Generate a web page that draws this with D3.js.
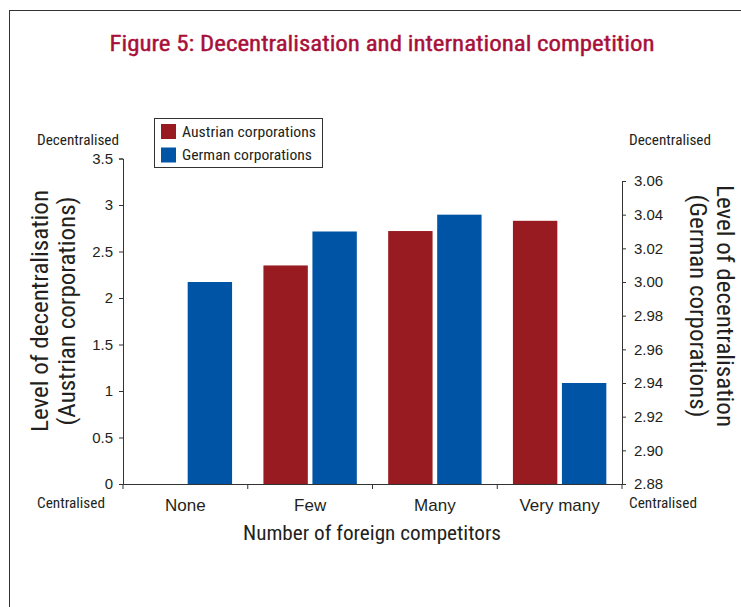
<!DOCTYPE html>
<html><head><meta charset="utf-8">
<script src="https://cdn.jsdelivr.net/npm/d3@7"></script>
<style>
body{margin:0;background:#fff;}
svg{display:block;font-family:"Liberation Sans Narrow","Roboto Condensed","DejaVu Sans Condensed","Roboto",sans-serif;}
</style></head><body>
<svg id="c" width="741" height="607"></svg>
<script>
const categories = ["None", "Few", "Many", "Very many"];
const austrian = [null, 2.35, 2.72, 2.83];
const german = [3.00, 3.03, 3.04, 2.94];
const leftTicks = [0, 0.5, 1, 1.5, 2, 2.5, 3, 3.5];
const rightTicks = [2.88, 2.90, 2.92, 2.94, 2.96, 2.98, 3.00, 3.02, 3.04, 3.06];
const seriesNames = ["Austrian corporations", "German corporations"];
const colors = ["#971b20", "#0054a6"];

const svg = d3.select("#c");
const axisColor = "#333";
const textColor = "#231f20";

// frame
svg.append("rect").attr("x", 9.5).attr("y", 10.5).attr("width", 760).attr("height", 640)
  .attr("fill", "none").attr("stroke", "#333").attr("stroke-width", 1);

// title
svg.append("text").attr("x", 382).attr("y", 51).attr("text-anchor", "middle")
  .attr("fill", "#a8103a").attr("font-size", 22).attr("font-weight", "normal")
  .attr("stroke", "#a8103a").attr("stroke-width", 0.4)
  .attr("textLength", 545).attr("lengthAdjust", "spacingAndGlyphs")
  .text("Figure 5: Decentralisation and international competition");

const x0 = d3.scaleBand().domain(categories).range([123, 622]).paddingInner(0).paddingOuter(0);
const x1 = d3.scaleBand().domain(seriesNames).range([0, x0.bandwidth()]).paddingInner(0.094).paddingOuter(0.32);
const yL = d3.scaleLinear().domain([0, 3.5]).range([484, 158.5]);
const yR = d3.scaleLinear().domain([2.88, 3.06]).range([484, 181]);

// bars
const g = svg.append("g");
categories.forEach((c, i) => {
  if (austrian[i] != null) {
    g.append("rect").attr("x", x0(c) + x1(seriesNames[0])).attr("width", x1.bandwidth())
      .attr("y", yL(austrian[i])).attr("height", yL(0) - yL(austrian[i])).attr("fill", colors[0]);
  }
  if (german[i] != null) {
    g.append("rect").attr("x", x0(c) + x1(seriesNames[1])).attr("width", x1.bandwidth())
      .attr("y", yR(german[i])).attr("height", yR(2.88) - yR(german[i])).attr("fill", colors[1]);
  }
});

// left axis
const axL = svg.append("g").attr("transform", "translate(123,0)")
  .call(d3.axisLeft(yL).tickValues(leftTicks).tickFormat(d3.format("~g")).tickSize(4).tickPadding(6));
// right axis
const axR = svg.append("g").attr("transform", "translate(622,0)")
  .call(d3.axisRight(yR).tickValues(rightTicks).tickFormat(d3.format(".2f")).tickSize(4).tickPadding(8));
// x axis
const axX = svg.append("g").attr("transform", "translate(0,484)")
  .call(d3.axisBottom(x0).tickSize(0).tickPadding(15));
// category boundary ticks
const bounds = categories.map(c => x0(c)).concat([x0(categories[categories.length - 1]) + x0.bandwidth()]);
axX.selectAll(".bt").data(bounds).join("line").attr("class", "bt")
  .attr("x1", d => d).attr("x2", d => d).attr("y1", 0).attr("y2", 5).attr("stroke", axisColor);

[axL, axR, axX].forEach(a => {
  a.selectAll(".domain").attr("stroke", axisColor);
  a.selectAll(".tick line").attr("stroke", axisColor);
  a.selectAll("text").attr("fill", textColor).attr("font-family", null);
});
axL.selectAll("text").attr("font-size", 15);
axR.selectAll("text").attr("font-size", 15);
axX.selectAll("text").attr("font-size", 17);

// end labels
const small = (x, y, t, w) => svg.append("text").attr("x", x).attr("y", y).attr("text-anchor", "middle")
  .attr("font-size", 14).attr("fill", textColor)
  .attr("textLength", w).attr("lengthAdjust", "spacingAndGlyphs").text(t);
small(78, 145, "Decentralised", 82);
small(670, 145, "Decentralised", 82);
small(71, 508, "Centralised", 68);
small(663, 508, "Centralised", 68);

// axis titles
const lt = svg.append("text").attr("transform", "translate(48,311) rotate(-90)")
  .attr("text-anchor", "middle").attr("font-size", 23).attr("fill", textColor);
lt.append("tspan").attr("x", 0).attr("y", 0).attr("textLength", 242).attr("lengthAdjust", "spacingAndGlyphs").text("Level of decentralisation");
lt.append("tspan").attr("x", 0).attr("y", 27).attr("textLength", 229).attr("lengthAdjust", "spacingAndGlyphs").text("(Austrian corporations)");

const rt = svg.append("text").attr("transform", "translate(717,306) rotate(90)")
  .attr("text-anchor", "middle").attr("font-size", 23).attr("fill", textColor);
rt.append("tspan").attr("x", 0).attr("y", 0).attr("textLength", 242).attr("lengthAdjust", "spacingAndGlyphs").text("Level of decentralisation");
rt.append("tspan").attr("x", 0).attr("y", 27).attr("textLength", 223).attr("lengthAdjust", "spacingAndGlyphs").text("(German corporations)");

svg.append("text").attr("x", 372).attr("y", 540).attr("text-anchor", "middle")
  .attr("font-size", 21).attr("fill", textColor)
  .attr("textLength", 258).attr("lengthAdjust", "spacingAndGlyphs").text("Number of foreign competitors");

// legend
const lg = svg.append("g");
lg.append("rect").attr("x", 154.5).attr("y", 118.5).attr("width", 168).attr("height", 49)
  .attr("fill", "#fff").attr("stroke", "#333");
const legW = [134, 130];
seriesNames.forEach((s, i) => {
  lg.append("rect").attr("x", 161).attr("y", 124 + i * 23.5).attr("width", 15).attr("height", 15).attr("fill", colors[i]);
  lg.append("text").attr("x", 182).attr("y", 136.5 + i * 23.5).attr("font-size", 15).attr("fill", textColor)
    .attr("textLength", legW[i]).attr("lengthAdjust", "spacingAndGlyphs").text(s);
});
</script>
</body></html>
